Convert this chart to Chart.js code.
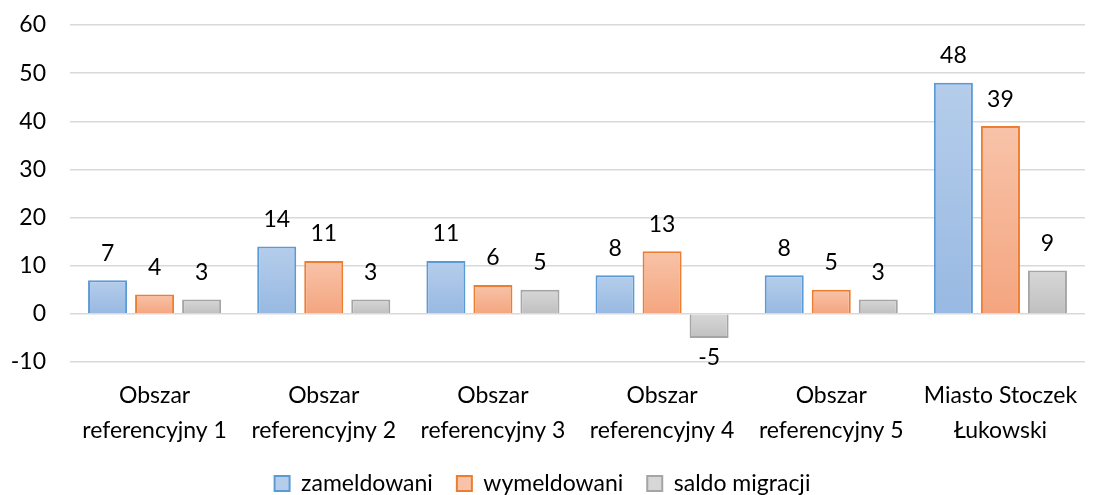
<!DOCTYPE html>
<html>
<head>
<meta charset="utf-8">
<script src="https://cdn.jsdelivr.net/npm/chart.js@4/dist/chart.umd.min.js"></script>
<style>
  html, body { margin: 0; padding: 0; background: #fff; }
  #wrap { width: 1097px; height: 495px; }
</style>
</head>
<body>
<div id="wrap"><canvas id="wykres"></canvas></div>
<script>
var kategorie = [
    ['Obszar', 'referencyjny 1'],
    ['Obszar', 'referencyjny 2'],
    ['Obszar', 'referencyjny 3'],
    ['Obszar', 'referencyjny 4'],
    ['Obszar', 'referencyjny 5'],
    ['Miasto Stoczek', 'Łukowski']
];
var zameldowani = [7, 14, 11, 8, 8, 48];
var wymeldowani = [4, 11, 6, 13, 5, 39];
var saldoMigracji = [3, 3, 5, -5, 3, 9];

var czcionka = 'Lato, "Open Sans", sans-serif';
var rozmiar = 23;

// gradient per bar, like in Excel
function gradient(jasny, ciemny) {
    return function (ctx) {
        var chart = ctx.chart;
        if (!chart.chartArea || ctx.raw === undefined) return jasny;
        var y = chart.scales.y;
        var top = y.getPixelForValue(Math.max(ctx.raw, 0));
        var bottom = y.getPixelForValue(Math.min(ctx.raw, 0));
        if (bottom - top < 1) bottom = top + 1;
        var g = chart.ctx.createLinearGradient(0, top, 0, bottom);
        g.addColorStop(0, jasny);
        g.addColorStop(1, ciemny);
        return g;
    };
}

var etykiety = {
    id: 'etykiety',
    afterDatasetsDraw: function (chart) {
        var ctx = chart.ctx;
        ctx.save();
        ctx.font = rozmiar + 'px ' + czcionka;
        ctx.fillStyle = '#000';
        ctx.textAlign = 'center';
        ctx.textBaseline = 'middle';
        chart.data.datasets.forEach(function (ds, i) {
            chart.getDatasetMeta(i).data.forEach(function (bar, j) {
                var v = ds.data[j];
                var y = v >= 0 ? bar.y - 27 : bar.y + 20;
                ctx.fillText(String(v), bar.x, y);
            });
        });
        ctx.restore();
    }
};

var kolory = [
    { jasny: '#b5cdeb', ciemny: '#98b9e2', ramka: '#5b9bd5' },
    { jasny: '#f8c3a9', ciemny: '#f4a57f', ramka: '#ed7d31' },
    { jasny: '#d7d7d7', ciemny: '#c0c0c0', ramka: '#a5a5a5' }
];

var dane = {
    labels: kategorie,
    datasets: [{
            label: 'zameldowani',
            data: zameldowani,
            backgroundColor: gradient(kolory[0].jasny, kolory[0].ciemny),
            borderColor: kolory[0].ramka,
            borderWidth: 2
        },
        {
            label: 'wymeldowani',
            data: wymeldowani,
            backgroundColor: gradient(kolory[1].jasny, kolory[1].ciemny),
            borderColor: kolory[1].ramka,
            borderWidth: 2
        },
        {
            label: 'saldo migracji',
            data: saldoMigracji,
            backgroundColor: gradient(kolory[2].jasny, kolory[2].ciemny),
            borderColor: kolory[2].ramka,
            borderWidth: 2
        }
    ]
};

new Chart(document.getElementById('wykres'), {
    type: 'bar',
    data: dane,
    plugins: [etykiety],
    options: {
        responsive: true,
        maintainAspectRatio: false,
        animation: false,
        categoryPercentage: 0.834,
        barPercentage: 0.83,
        layout: { padding: { top: 25, right: 12, left: 0, bottom: -10 } },
        plugins: {
            tooltip: { enabled: false },
            legend: {
                position: 'bottom',
                labels: {
                    color: '#000',
                    font: { size: rozmiar, family: czcionka },
                    boxWidth: 15,
                    boxHeight: 15,
                    padding: 24,
                    generateLabels: function (chart) {
                        return chart.data.datasets.map(function (ds, i) {
                            return {
                                text: ds.label,
                                fillStyle: kolory[i].jasny,
                                strokeStyle: kolory[i].ramka,
                                lineWidth: 2,
                                datasetIndex: i
                            };
                        });
                    }
                }
            }
        },
        scales: {
            x: {
                grid: { display: false },
                border: { display: false },
                afterFit: function (scale) { scale.height = 86; },
                ticks: {
                    color: '#000',
                    font: { size: rozmiar, family: czcionka, lineHeight: 1.52 },
                    maxRotation: 0,
                    padding: 8
                }
            },
            y: {
                min: -10,
                max: 60,
                afterFit: function (scale) {
                    scale.width = 70;
                    scale.paddingTop = 0;
                    scale.paddingBottom = 0;
                },
                grid: { color: '#d9d9d9', lineWidth: 1.5, drawTicks: false },
                border: { display: false },
                ticks: {
                    stepSize: 10,
                    color: '#000',
                    font: { size: rozmiar, family: czcionka },
                    padding: 24
                }
            }
        }
    }
});
</script>
</body>
</html>
